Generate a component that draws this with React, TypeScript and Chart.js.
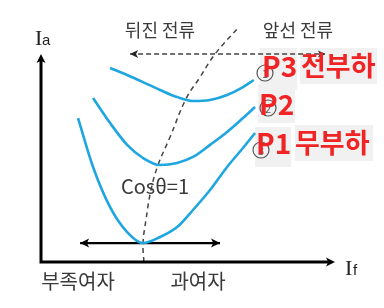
import React, { useEffect, useRef } from "react";
import { Chart, registerables } from "chart.js";

Chart.register(...registerables);

// V-curve data (If on x, Ia on y), axis units 0..100
const p1X = [12.6, 17.7, 23.5, 29.3, 34.7, 40.5, 46.3, 51.7, 57.5, 63.3, 68.7, 72.8];
const p1Y = [69.2, 45.7, 26.4, 14.4, 9.1, 12.0, 16.8, 25.0, 34.6, 45.7, 54.8, 62.0];
const p2X = [17.7, 23.5, 29.3, 34.7, 40.5, 46.3, 51.7, 57.5, 63.3, 68.7, 72.8];
const p2Y = [78.8, 66.8, 56.3, 50.0, 46.6, 47.6, 50.5, 56.3, 62.5, 69.2, 74.5];
const p3X = [23.5, 29.3, 34.7, 40.5, 46.3, 51.7, 57.5, 63.3, 68.7, 72.4];
const p3Y = [93.3, 89.9, 86.5, 82.7, 79.3, 77.4, 77.9, 80.3, 84.1, 87.5];
const cosX = [35.0, 34.7, 35.7, 37.4, 39.8, 43.9, 49.3, 54.1, 59.2, 67.3];
const cosY = [0, 9.1, 20.2, 34.6, 46.6, 60.1, 78.4, 88.9, 100, 113.0];
const rangeArrowX = [13.3, 60.9];
const rangeArrowY = [9.1, 9.1];
const leadLagArrowX = [30.3, 96.6];
const leadLagArrowY = [100, 100];

const curveNames = ["P1", "P2", "P3"];
const loadNames = ["무부하", "전부하"];
const topLabels = ["뒤진 전류", "앞선 전류"];
const bottomLabels = ["부족여자", "과여자"];
const pfLabel = "Cosθ=1";
const circleDigits = ["1", "2", "3"];

const toPts = (xs: number[], ys: number[]) => xs.map((x, i) => ({ x, y: ys[i] }));

const CYAN = "#1ea6e0";
const DASH = "#454545";
const TXT = "#3a3a3a";
const RED = "#f02424";
const BOX = "#f1f1f1";
const KR = '"Noto Sans CJK KR", "Noto Sans", sans-serif';

function head(ctx: CanvasRenderingContext2D, x: number, y: number, ang: number, len: number, half: number, color: string) {
  ctx.save();
  ctx.translate(x, y);
  ctx.rotate(ang);
  ctx.beginPath();
  ctx.moveTo(0, 0);
  ctx.lineTo(-len, -half);
  ctx.lineTo(-len * 0.75, 0);
  ctx.lineTo(-len, half);
  ctx.closePath();
  ctx.fillStyle = color;
  ctx.fill();
  ctx.restore();
}

const decor = {
  id: "decor",
  beforeDatasetsDraw(chart: any) {
    const ctx = chart.ctx as CanvasRenderingContext2D;
    ctx.save();
    ctx.fillStyle = BOX;
    ctx.fillRect(260, 48, 37, 42);
    ctx.fillRect(300, 48, 77, 36);
    ctx.fillRect(258, 84, 37, 39);
    ctx.fillRect(255, 127, 36, 40);
    ctx.fillRect(295, 125, 78, 36);
    ctx.restore();
  },
  afterDatasetsDraw(chart: any) {
    const ctx = chart.ctx as CanvasRenderingContext2D;
    const { left, right, top, bottom } = chart.chartArea;
    ctx.save();
    // axes
    ctx.strokeStyle = "#000";
    ctx.lineWidth = 3;
    ctx.lineJoin = "miter";
    ctx.beginPath();
    ctx.moveTo(left, top + 6);
    ctx.lineTo(left, bottom);
    ctx.lineTo(right - 6, bottom);
    ctx.stroke();
    head(ctx, left, top, -Math.PI / 2, 9, 4.5, "#000");
    head(ctx, right, bottom, 0, 9, 4.5, "#000");

    // arrow heads on arrow datasets
    const m4 = chart.getDatasetMeta(4).data;
    head(ctx, m4[0].x, m4[0].y, Math.PI, 9, 4.5, "#000");
    head(ctx, m4[1].x, m4[1].y, 0, 9, 4.5, "#000");
    const m5 = chart.getDatasetMeta(5).data;
    head(ctx, m5[0].x, m5[0].y, Math.PI, 8, 4, "#222");
    head(ctx, m5[1].x, m5[1].y, 0, 7, 3.5, "#222");

    // circled numbers
    const circles = [
      [265, 73],
      [268, 108],
      [261, 150],
    ];
    ctx.strokeStyle = "#555";
    ctx.lineWidth = 1.2;
    ctx.fillStyle = "#555";
    ctx.font = `11px ${KR}`;
    ctx.textAlign = "center";
    ctx.textBaseline = "middle";
    circles.forEach(([cx, cy], i) => {
      ctx.beginPath();
      ctx.arc(cx, cy, 8, 0, Math.PI * 2);
      ctx.stroke();
      ctx.fillText(circleDigits[i], cx, cy + 1);
    });

    // dark labels
    ctx.fillStyle = TXT;
    ctx.font = `18px ${KR}`;
    ctx.fillText(topLabels[0], 160, 30);
    ctx.fillText(topLabels[1], 298, 30);
    ctx.font = `20px ${KR}`;
    ctx.fillText(bottomLabels[0], 78, 281);
    ctx.fillText(bottomLabels[1], 198, 281);
    ctx.fillText(pfLabel, 155, 186);

    // axis titles
    ctx.textAlign = "left";
    ctx.textBaseline = "alphabetic";
    ctx.fillStyle = "#222";
    ctx.font = `22px "Liberation Serif", serif`;
    ctx.fillText("I", 35, 45);
    ctx.fillText("I", 345, 275);
    ctx.font = `15px "Liberation Sans", sans-serif`;
    ctx.fillText("a", 42, 45);
    ctx.fillText("f", 353, 275);

    // red load labels
    ctx.fillStyle = RED;
    ctx.font = `bold 28px ${KR}`;
    ctx.textBaseline = "middle";
    ctx.fillText(curveNames[2], 262, 66);
    ctx.fillText(curveNames[1], 259, 104);
    ctx.fillText(curveNames[0], 256, 143);
    ctx.font = `bold 27px ${KR}`;
    ctx.fillText(loadNames[1], 301, 66);
    ctx.fillText(loadNames[0], 295, 143);
    ctx.restore();
  },
};

export default function App() {
  const ref = useRef<HTMLCanvasElement | null>(null);
  useEffect(() => {
    if (!ref.current) return;
    const curve = (xs: number[], ys: number[]) => ({
      data: toPts(xs, ys),
      showLine: true,
      borderColor: CYAN,
      borderWidth: 2.6,
      pointRadius: 0,
      cubicInterpolationMode: "monotone" as const,
      clip: false as const,
    });
    const chart = new Chart(ref.current, {
      type: "scatter",
      data: {
        datasets: [
          curve(p1X, p1Y),
          curve(p2X, p2Y),
          curve(p3X, p3Y),
          {
            data: toPts(cosX, cosY),
            showLine: true,
            borderColor: DASH,
            borderWidth: 1.5,
            borderDash: [5, 4],
            pointRadius: 0,
            tension: 0.4,
            clip: false,
          },
          {
            data: toPts(rangeArrowX, rangeArrowY),
            showLine: true,
            borderColor: "#000",
            borderWidth: 2.2,
            pointRadius: 0,
            clip: false,
          },
          {
            data: toPts(leadLagArrowX, leadLagArrowY),
            showLine: true,
            borderColor: DASH,
            borderWidth: 1.5,
            borderDash: [5, 3],
            pointRadius: 0,
            clip: false,
          },
        ],
      },
      options: {
        animation: false,
        responsive: false,
        layout: { padding: { left: 41, right: 49, top: 54, bottom: 46 } },
        plugins: { legend: { display: false }, tooltip: { enabled: false } },
        scales: {
          x: { type: "linear", min: 0, max: 100, display: false },
          y: { type: "linear", min: 0, max: 100, display: false },
        },
      },
      plugins: [decor],
    });
    return () => chart.destroy();
  }, []);
  return (
    <div style={{ position: "absolute", left: 0, top: 0, width: 384, height: 308, background: "#fff" }}>
      <canvas ref={ref} width={384} height={308} style={{ display: "block" }} />
    </div>
  );
}
